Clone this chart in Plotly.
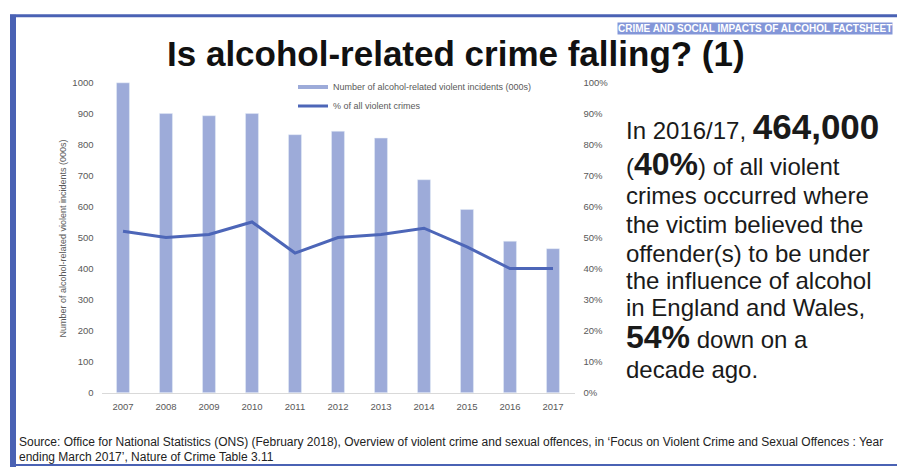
import plotly.graph_objects as go

W, H = 897, 475

years = ["2007", "2008", "2009", "2010", "2011", "2012", "2013", "2014", "2015", "2016", "2017"]
incidents = [998, 899, 892, 899, 831, 842, 820, 686, 590, 488, 464]
pct_violent = [0.52, 0.50, 0.51, 0.55, 0.45, 0.50, 0.51, 0.53, 0.47, 0.40, 0.40]

bar_name = "Number of alcohol-related violent incidents (000s)"
line_name = "% of all violent crimes"

title_text = "Is alcohol-related crime falling? (1)"
header_text = "CRIME AND SOCIAL IMPACTS OF ALCOHOL FACTSHEET"
y_title = "Number of alcohol-related violent incidents (000s)"
source_lines = [
    "Source: Office for National Statistics (ONS) (February 2018), Overview of violent crime and sexual offences, in \u2018Focus on Violent Crime and Sexual Offences : Year",
    "ending March 2017\u2019, Nature of Crime Table 3.11",
]
B1 = "<b><span style='font-size:35px'>%s</span></b>"
B2 = "<b><span style='font-size:32px'>%s</span></b>"
side_lines = [
    "In 2016/17, " + B1 % "464,000",
    "(" + B2 % "40%" + ") of all violent",
    "crimes occurred where",
    "the victim believed the",
    "offender(s) to be under",
    "the influence of alcohol",
    "in England and Wales,",
    B2 % "54%" + " down on a",
    "decade ago.",
]
side_y = [123, 162, 194, 224, 253, 281, 309, 339, 372]

BAR_C = "#9dabd9"
LINE_C = "#4d66b8"
BORDER_C = "#4a62b4"
TICK_C = "#595959"
FONT = "Liberation Sans, Arial, sans-serif"


def px(x):
    return x / W


def py(y):
    return 1 - y / H


fig = go.Figure()
fig.add_trace(go.Bar(x=years, y=incidents, marker_color=BAR_C, name=bar_name,
                     showlegend=False, yaxis="y"))
fig.add_trace(go.Scatter(x=[None], y=[None], mode="lines", name=bar_name,
                         line=dict(color=BAR_C, width=4), yaxis="y"))
fig.add_trace(go.Scatter(x=years, y=pct_violent, mode="lines", name=line_name,
                         line=dict(color=LINE_C, width=3), yaxis="y2"))

annotations = [
    dict(text="<b>%s</b>" % title_text, x=px(456), y=py(49), xref="paper", yref="paper",
         showarrow=False, font=dict(size=35, color="#111111", family=FONT),
         xanchor="center", yanchor="middle"),
    dict(text="<b>%s</b>" % header_text, x=px(893), y=py(23), xref="paper", yref="paper",
         showarrow=False, font=dict(size=10, color="#ffffff", family=FONT),
         xanchor="right", yanchor="middle", bgcolor="#8396d8", borderpad=0),
    dict(text=y_title, x=px(63), y=py(238), xref="paper", yref="paper", textangle=-90,
         showarrow=False, font=dict(size=9, color=TICK_C, family=FONT),
         xanchor="center", yanchor="middle"),
]
for i, s in enumerate(source_lines):
    annotations.append(dict(text=s, x=px(17), y=py(446 + 16 * i), xref="paper", yref="paper",
                            showarrow=False, font=dict(size=12, color="#222222", family=FONT),
                            xanchor="left", yanchor="middle"))
for s, yy in zip(side_lines, side_y):
    annotations.append(dict(text=s, x=px(624), y=py(yy), xref="paper", yref="paper",
                            showarrow=False, font=dict(size=24, color="#1a1a1a", family=FONT),
                            xanchor="left", yanchor="middle"))

shapes = [
    dict(type="line", xref="paper", yref="paper", x0=px(10), x1=1, y0=py(10), y1=py(10),
         line=dict(color=BORDER_C, width=3)),
    dict(type="line", xref="paper", yref="paper", x0=px(13), x1=px(13), y0=py(9), y1=py(472),
         line=dict(color=BORDER_C, width=6)),
    dict(type="line", xref="paper", yref="paper", x0=px(10), x1=1, y0=py(470), y1=py(470),
         line=dict(color=BORDER_C, width=2)),
]

fig.update_layout(
    width=W, height=H,
    margin=dict(l=0, r=0, t=0, b=0),
    paper_bgcolor="white", plot_bgcolor="white",
    font=dict(family=FONT, color=TICK_C),
    bargap=0.7,
    showlegend=True,
    legend=dict(x=px(293), y=py(68), xanchor="left", yanchor="top",
                font=dict(size=9, color=TICK_C), bgcolor="rgba(0,0,0,0)",
                itemwidth=30, tracegroupgap=0),
    xaxis=dict(domain=[px(101.5), px(574.5)], showgrid=False, showline=True,
               linecolor="#d9d9d9", linewidth=1, ticks="",
               tickfont=dict(size=9.5, color=TICK_C), ticklabelstandoff=5),
    yaxis=dict(domain=[py(396), py(78)], range=[0, 1000], dtick=100, showgrid=False,
               zeroline=False, ticks="", tickfont=dict(size=9.5, color=TICK_C),
               ticklabelstandoff=7),
    yaxis2=dict(overlaying="y", side="right", range=[0, 1], dtick=0.1, tickformat=".0%",
                showgrid=False, zeroline=False, ticks="",
                tickfont=dict(size=9.5, color=TICK_C), ticklabelstandoff=8),
    annotations=annotations,
    shapes=shapes,
)

fig.write_html("out.html")
